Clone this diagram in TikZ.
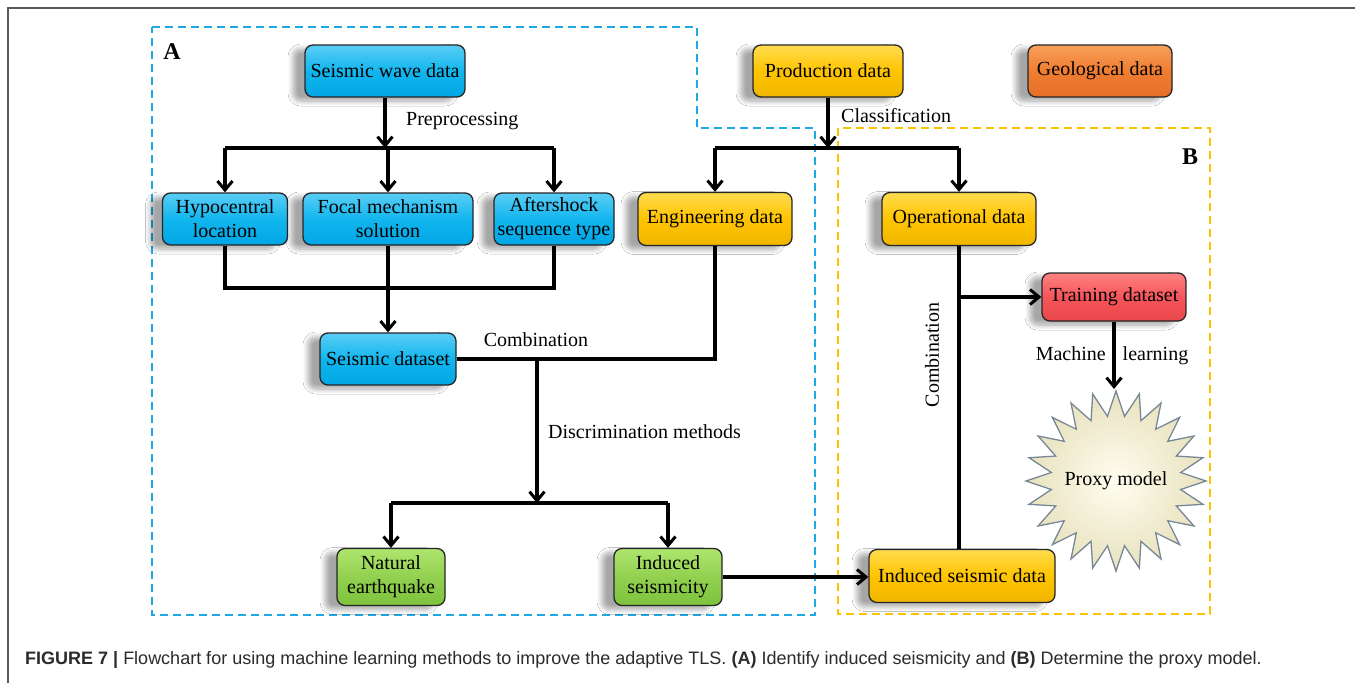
\documentclass[tikz,border=0pt]{standalone}
\usepackage{fontspec}
\setmainfont{Liberation Serif}
\newfontfamily\capfont{Liberation Sans}
\usetikzlibrary{arrows.meta,shapes.geometric,shadows.blur,calc}
\definecolor{frameline}{HTML}{5A5A5A}
\definecolor{dashblue}{HTML}{1EA8E6}
\definecolor{dashgold}{HTML}{FFC000}
\definecolor{boxedge}{HTML}{262626}
\definecolor{capgray}{HTML}{2B2B2B}
\tikzset{
  every node/.style={font=\fontsize{20}{24}\selectfont},
  box/.style={rectangle, rounded corners=8pt, draw=boxedge, line width=1.3pt,
    align=center, inner sep=0pt,
    blur shadow={shadow xshift=-12pt, shadow yshift=-4pt, shadow blur radius=5pt,
                 shadow blur steps=8, shadow opacity=35}},
  bluebox/.style={box, top color={rgb,255:red,90;green,205;blue,245}, bottom color={rgb,255:red,0;green,165;blue,228}, middle color={rgb,255:red,18;green,182;blue,238}},
  goldbox/.style={box, top color={rgb,255:red,255;green,220;blue,80}, bottom color={rgb,255:red,240;green,182;blue,0}, middle color={rgb,255:red,255;green,196;blue,0}},
  orangebox/.style={box, top color={rgb,255:red,248;green,160;blue,90}, bottom color={rgb,255:red,230;green,110;blue,40}, middle color={rgb,255:red,240;green,125;blue,50}},
  redbox/.style={box, top color={rgb,255:red,255;green,130;blue,130}, bottom color={rgb,255:red,232;green,70;blue,75}, middle color={rgb,255:red,245;green,85;blue,90}},
  greenbox/.style={box, top color={rgb,255:red,175;green,230;blue,110}, bottom color={rgb,255:red,125;green,195;blue,60}, middle color={rgb,255:red,146;green,208;blue,80}},
  flow/.style={line width=3.2pt, black},
  arr/.style={flow, -{Straight Barb[length=9pt,width=15pt,line width=3pt]}},
  lbl/.style={inner sep=0pt},
  dashA/.style={draw=dashblue, line width=2pt, dash pattern=on 8pt off 5pt},
  dashB/.style={draw=dashgold, line width=2pt, dash pattern=on 8pt off 5pt},
}
\begin{document}
\begin{tikzpicture}[x=1pt,y=-1pt]
\useasboundingbox (0,0) rectangle (1355,683);
\fill[white] (0,0) rectangle (1355,683);

% outer frame (top and left rules)
\draw[frameline, line width=1.6pt] (8,683) -- (8,8) -- (1355,8);

% group outlines
\draw[dashA] (152,27) -- (697,27) -- (697,128) -- (815,128) -- (815,615) -- (152,615) -- cycle;
\draw[dashB] (838,128) rectangle (1210,614);
\node[lbl, font=\fontsize{24}{28}\selectfont\bfseries] (labA) at (172,52) {A};
\node[lbl, font=\fontsize{24}{28}\selectfont\bfseries] (labB) at (1190,157) {B};

% seismic branch
\node[bluebox, minimum width=160pt, minimum height=52pt] (swd) at (385,71) {Seismic wave data};
\node[bluebox, minimum width=125pt, minimum height=52pt] (hypo) at (225,219) {Hypocentral\\location};
\node[bluebox, minimum width=170pt, minimum height=52pt] (focal) at (388,219) {Focal mechanism\\solution};
\node[bluebox, minimum width=120pt, minimum height=52pt] (after) at (554,219) {Aftershock\\sequence type};
\node[bluebox, minimum width=136pt, minimum height=52pt] (sds) at (388,359) {Seismic dataset};
\node[greenbox, minimum width=108pt, minimum height=57pt] (nat) at (391,577) {Natural\\earthquake};
\node[greenbox, minimum width=108pt, minimum height=57pt] (indsc) at (668,577) {Induced\\seismicity};

% production branch
\node[goldbox, minimum width=150pt, minimum height=52pt] (prod) at (828,71) {Production data};
\node[orangebox, minimum width=144pt, minimum height=52pt] (geo) at (1100,71) {Geological data};
\node[goldbox, minimum width=154pt, minimum height=53pt] (eng) at (715,219) {Engineering data};
\node[goldbox, minimum width=154pt, minimum height=53pt] (oper) at (959,219) {Operational data};
\node[redbox, minimum width=144pt, minimum height=48pt] (train) at (1114,297) {Training dataset};
\node[goldbox, minimum width=186pt, minimum height=53pt] (isd) at (962,576) {Induced seismic data};
\node[star, star points=24, star point ratio=1.38, minimum size=180pt, inner sep=0pt,
      draw={rgb,255:red,120;green,135;blue,150}, line width=1.3pt,
      inner color={rgb,255:red,255;green,253;blue,240}, outer color={rgb,255:red,232;green,226;blue,190}]
      (proxy) at (1116,481) {};
\node[lbl] (proxytxt) at (proxy.center) {Proxy model};

% preprocessing fan-out
\coordinate (pp) at (388,148);
\draw[arr] (swd.south) -- (swd.south |- pp);
\draw[flow] (hypo.north |- pp) -- (after.north |- pp);
\draw[arr] (hypo.north |- pp) -- (hypo.north);
\draw[arr] (focal.north |- pp) -- (focal.north);
\draw[arr] (after.north |- pp) -- (after.north);
\node[lbl, anchor=west] (tpre) at (406,121) {Preprocessing};

% merge into the seismic dataset
\coordinate (mg) at (388,288);
\draw[flow] (hypo.south) -- (hypo.south |- mg) -- (after.south |- mg) -- (after.south);
\draw[arr] (focal.south) -- (sds.north);

% combination with engineering data
\coordinate (cmb) at (537,359);
\draw[flow] (eng.south) -- (eng.south |- sds.east) -- (sds.east);
\node[lbl] (tcmb) at (536,340) {Combination};

% discrimination
\coordinate (ds) at (537,503);
\draw[arr] (cmb) -- (ds);
\draw[flow] (nat.north |- ds) -- (indsc.north |- ds);
\draw[arr] (nat.north |- ds) -- (nat.north);
\draw[arr] (indsc.north |- ds) -- (indsc.north);
\node[lbl, anchor=west] (tdis) at (548,432) {Discrimination methods};

% classification of production data
\coordinate (cl) at (828,148);
\draw[arr] (prod.south) -- (cl);
\draw[flow] (eng.north |- cl) -- (oper.north |- cl);
\draw[arr] (eng.north |- cl) -- (eng.north);
\draw[arr] (oper.north |- cl) -- (oper.north);
\node[lbl, anchor=west] (tcls) at (841,116) {Classification};

% proxy-model branch
\draw[arr] (indsc.east) -- (indsc.east -| isd.west);
\draw[flow] (oper.south) -- (oper.south |- isd.north);
\draw[arr] (oper.south |- train.west) -- (train.west);
\node[lbl, rotate=90] (tcmb2) at (932,355) {Combination};
\draw[arr] (train.south) -- (train.south |- proxy.north);
\node[lbl] (tml) at (1112,356) {Machine\hspace{17pt}learning};

% caption
\node[lbl, anchor=west, text=capgray, font=\capfont\fontsize{18}{22}\selectfont] (cap) at (25,660)
  {\textbf{FIGURE 7 |} Flowchart for using machine learning methods to improve the adaptive TLS. \textbf{(A)} Identify induced seismicity and \textbf{(B)} Determine the proxy model.};
\end{tikzpicture}
\end{document}
